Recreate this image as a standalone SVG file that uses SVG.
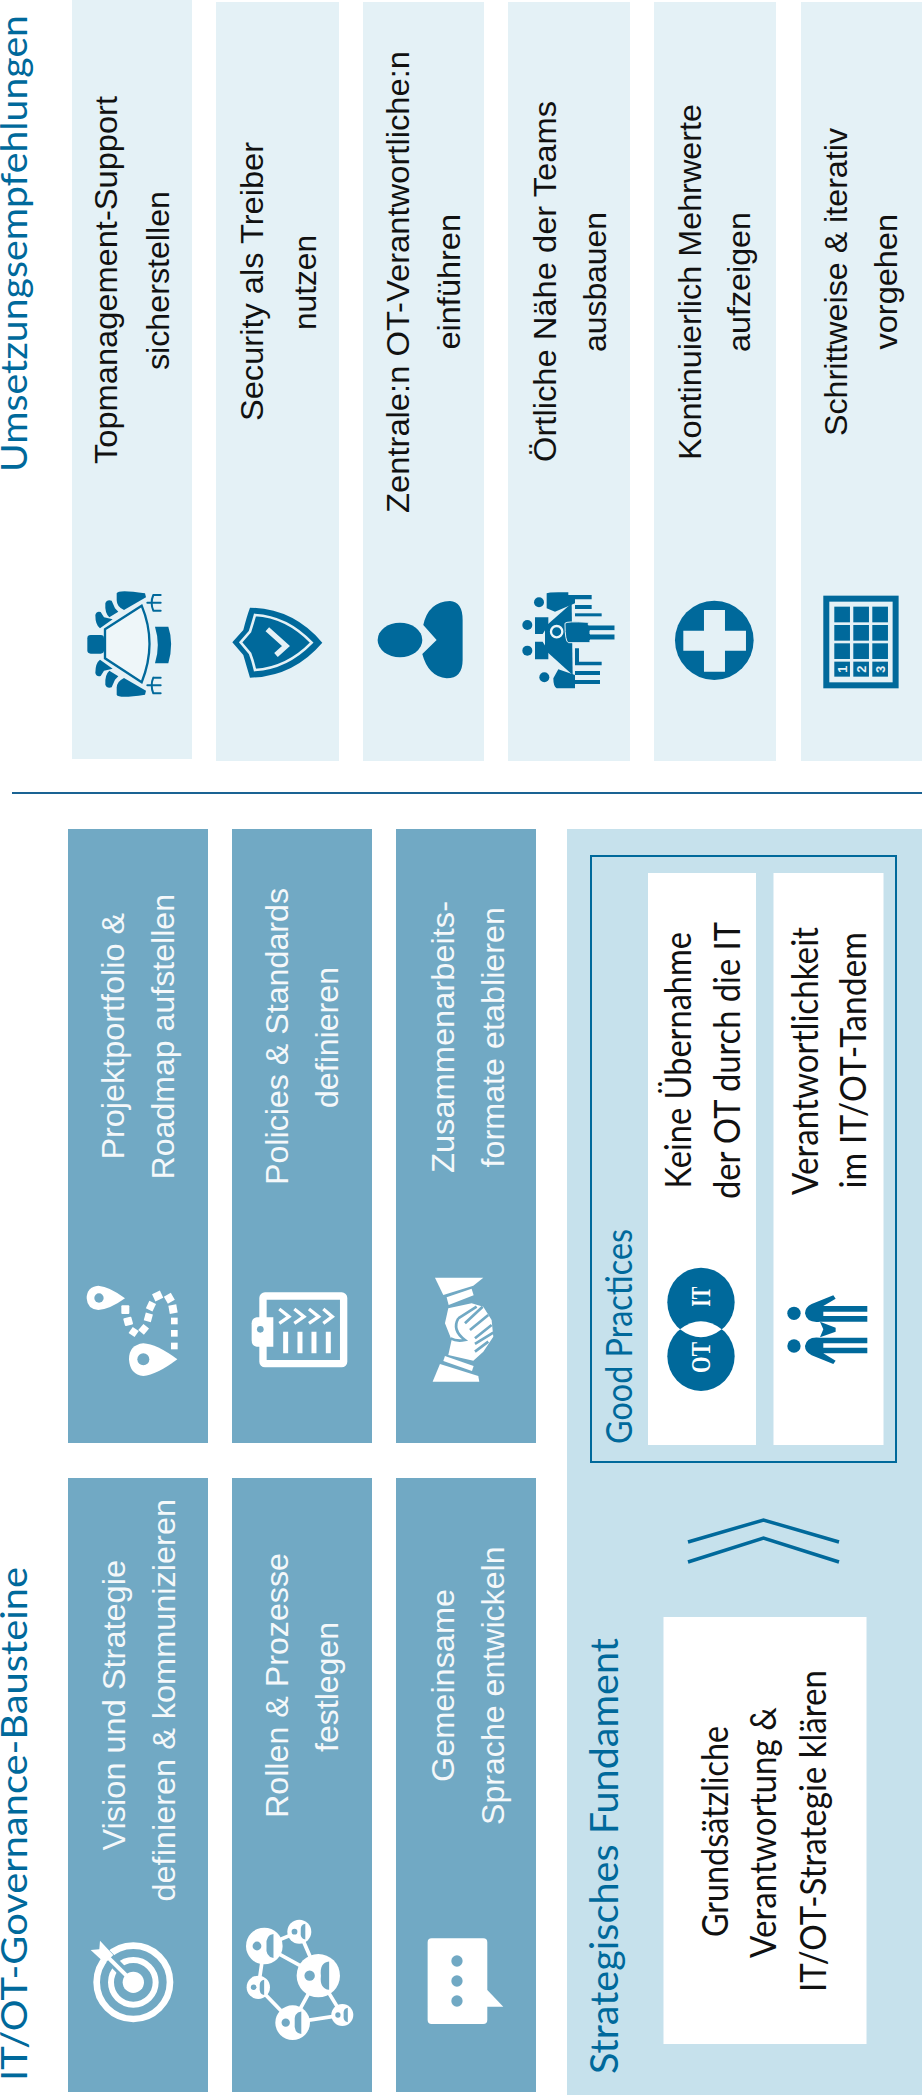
<svg xmlns="http://www.w3.org/2000/svg" width="922" height="2095" viewBox="0 0 922 2095">
<style>
text{white-space:pre}
.s{font-family:"Liberation Sans",Arial,sans-serif;font-size:32px}
.l{font-family:Lato,"Open Sans",sans-serif;font-size:36px}
.h{font-family:Lato,"Open Sans",sans-serif;font-size:37px;fill:#00699b}
.h2{font-family:Lato,"Open Sans",sans-serif;font-size:38px;fill:#00699b}
.k{fill:#111}
.w{fill:#f4f8fa}
.band{fill:#e4f1f6}
.block{fill:#71a9c4}
.white{fill:#fff}
.dk{fill:#00699b}
.ds{fill:none;stroke:#00699b;stroke-linecap:round;stroke-linejoin:round}
.bs{fill:none;stroke:#e4f1f6}
.wf{fill:#fff}
.ws{fill:none;stroke:#fff}
.bl{fill:#71a9c4}
.bls{fill:none;stroke:#71a9c4}
</style>
<defs>
<g id="hub"><circle r="1" class="wf"/><circle cx="-.4" cy="0" r=".24" class="bl"/><path class="bl" d="M.5,-.65Q.05,-.6 .12,0Q.05,.6 .5,.65Z"/></g>
<g id="man"><path class="dk" d="M645,250Q645,232 665,222L730,196L737,206L700,228H832V245H700V258H832V275H690Q650,280 645,250Z"/></g>
</defs>

<g id="title-umsetzung"><text class="h" transform="translate(27 472) rotate(-90)" textLength="457" lengthAdjust="spacingAndGlyphs">Umsetzungsempfehlungen</text></g>

<g id="rec-1">
<rect class="band" x="72" y="0" width="120" height="759"/>
<text class="s k" transform="translate(116.500 464) rotate(-90)" textLength="368" lengthAdjust="spacingAndGlyphs">Topmanagement-Support</text>
<text class="s k" transform="translate(169 370) rotate(-90)" textLength="179" lengthAdjust="spacingAndGlyphs">sicherstellen</text>
<g transform="translate(70 560) scale(.3333)">
<path d="M105,208L215,137Q262,250 215,367L105,295Z" fill="#eef6f9" stroke="#00699b" stroke-width="7"/>
<path class="dk" d="M140,100Q145,88 225,100L228,112L162,150Q140,140 140,120Z"/>
<path class="dk" d="M140,404Q145,416 225,404L228,392L162,354Q140,364 140,384Z"/>
<rect class="dk" x="52" y="225" width="50" height="56" rx="10"/>
<path class="dk" d="M255,200H295Q312,250 295,310H255Q272,255 255,200Z"/>
<path class="dk" d="M76,165Q80,152 92,156L102,172L128,178L90,205Q76,195 76,165Z"/>
<path class="dk" d="M106,130Q110,118 125,122L135,145L145,155L118,172Q104,160 106,130Z"/>
<path class="dk" d="M76,339Q80,352 92,348L102,332L128,326L90,299Q76,309 76,339Z"/>
<path class="dk" d="M106,374Q110,386 125,382L135,359L145,349L118,332Q104,344 106,374Z"/>
<path class="ds" stroke-width="6" d="M232,128H250M250,105Q240,128 250,152M250,105H272M250,128H272M250,152H272"/>
<path class="ds" stroke-width="6" d="M232,376H250M250,353Q240,376 250,400M250,353H272M250,376H272M250,400H272"/>
</g>
</g>

<g id="rec-2">
<rect class="band" x="216" y="2" width="123" height="759"/>
<text class="s k" transform="translate(263 421) rotate(-90)" textLength="279" lengthAdjust="spacingAndGlyphs">Security als Treiber</text>
<text class="s k" transform="translate(316 330) rotate(-90)" textLength="95" lengthAdjust="spacingAndGlyphs">nutzen</text>
<g transform="translate(70 560) scale(.3333)">
<path class="dk" d="M487,247L520,210Q530,170 540,143Q670,145 757,248Q670,350 540,353Q530,320 520,285Z"/>
<path class="bs" stroke-width="8" d="M512,247L540,215Q548,190 555,165Q650,170 725,248Q650,325 555,330Q548,300 540,280Z"/>
<path class="bs" stroke-width="16" d="M592,208L648,258L618,285"/>
</g>
</g>

<g id="rec-3">
<rect class="band" x="363" y="2" width="121" height="759"/>
<text class="s k" transform="translate(409 513) rotate(-90)" textLength="462" lengthAdjust="spacingAndGlyphs">Zentrale:n OT-Verantwortliche:n</text>
<text class="s k" transform="translate(460 349.500) rotate(-90)" textLength="135.500" lengthAdjust="spacingAndGlyphs">einführen</text>
<g transform="translate(70 560) scale(.3333)">
<ellipse class="dk" cx="990" cy="240" rx="67" ry="52"/>
<path class="dk" d="M1060,195Q1075,125 1140,123Q1178,125 1178,180V300Q1178,355 1130,355Q1075,350 1057,282L1100,240Z"/>
</g>
</g>

<g id="rec-4">
<rect class="band" x="508" y="2" width="122" height="759"/>
<text class="s k" transform="translate(556 462) rotate(-90)" textLength="361" lengthAdjust="spacingAndGlyphs">Örtliche Nähe der Teams</text>
<text class="s k" transform="translate(606 352) rotate(-90)" textLength="140" lengthAdjust="spacingAndGlyphs">ausbauen</text>
<g transform="translate(500 560) scale(.3333)">
<path class="dk" d="M135,200L215,130L218,345L135,270Z"/>
<circle class="dk" cx="117" cy="127" r="15"/><circle class="dk" cx="82" cy="195" r="15"/><circle class="dk" cx="82" cy="272" r="15"/><circle class="dk" cx="133" cy="352" r="15"/>
<circle class="dk" cx="170" cy="215" r="17" stroke="#eef6f9" stroke-width="7"/>
<path class="dk" d="M140,100Q145,95 205,97V105H275V118H225V130L165,155L140,145Z"/>
<rect class="dk" x="225" y="135" width="50" height="12"/>
<rect class="dk" x="225" y="160" width="80" height="9"/>
<path class="dk" d="M195,190Q200,183 265,187V195H345V212H270V222H345V240H270V248H205Q195,245 195,190Z" stroke="#e4f1f6" stroke-width="3"/>
<path class="dk" d="M225,265H237V305H305V316H225Z"/>
<path class="dk" d="M160,355L175,328L225,345V333H300V345H225V360H300V372H225V385H170Q160,380 160,355Z"/>
<path class="dk" d="M105,172H145V195L128,222H105Z"/>
<path class="dk" d="M105,245H128L145,272V298H105Z"/>
</g>
</g>

<g id="rec-5">
<rect class="band" x="654" y="2" width="122" height="759"/>
<text class="s k" transform="translate(701 460) rotate(-90)" textLength="356" lengthAdjust="spacingAndGlyphs">Kontinuierlich Mehrwerte</text>
<text class="s k" transform="translate(750 352) rotate(-90)" textLength="140" lengthAdjust="spacingAndGlyphs">aufzeigen</text>
<g transform="translate(500 560) scale(.3333)">
<ellipse class="dk" cx="643" cy="241" rx="118" ry="119"/>
<path class="band" d="M612,150H675V212H738V272H675V335H612V272H550V212H612Z"/>
</g>
</g>

<g id="rec-6">
<rect class="band" x="801" y="2" width="121" height="759"/>
<text class="s k" transform="translate(847 436) rotate(-90)" textLength="308" lengthAdjust="spacingAndGlyphs">Schrittweise &amp; iterativ</text>
<text class="s k" transform="translate(897 349.500) rotate(-90)" textLength="135.500" lengthAdjust="spacingAndGlyphs">vorgehen</text>
<g transform="translate(500 560) scale(.3333)">
<rect x="979" y="116" width="208" height="260" class="band" stroke="#00699b" stroke-width="18"/>
<g class="dk">
<rect x="1003" y="140" width="47" height="47"/><rect x="1060" y="140" width="47" height="47"/><rect x="1117" y="140" width="47" height="47"/>
<rect x="1003" y="195" width="47" height="47"/><rect x="1060" y="195" width="47" height="47"/><rect x="1117" y="195" width="47" height="47"/>
<rect x="1003" y="250" width="47" height="47"/><rect x="1060" y="250" width="47" height="47"/><rect x="1117" y="250" width="47" height="47"/>
<rect x="1003" y="305" width="47" height="45"/><rect x="1060" y="305" width="47" height="45"/><rect x="1117" y="305" width="47" height="45"/>
</g>
<g style="font-family:'Liberation Sans',sans-serif;font-size:38px;font-weight:700;fill:#e4f1f6;text-anchor:middle">
<text transform="translate(1040 328) rotate(-90)">1</text><text transform="translate(1097 328) rotate(-90)">2</text><text transform="translate(1154 328) rotate(-90)">3</text>
</g>
</g>
</g>

<g id="connectors">
<path d="M12,793H922" fill="none" stroke="#1a6393" stroke-width="2"/>
</g>

<g id="title-bausteine"><text class="h" transform="translate(27 2081) rotate(-90)" textLength="514" lengthAdjust="spacingAndGlyphs">IT/OT-Governance-Bausteine</text></g>

<g id="block-portfolio">
<rect class="block" x="68" y="829" width="140" height="614"/>
<text class="s w" transform="translate(123.500 1159.500) rotate(-90)" textLength="246.500" lengthAdjust="spacingAndGlyphs">Projektportfolio &amp;</text>
<text class="s w" transform="translate(174 1179.500) rotate(-90)" textLength="285.500" lengthAdjust="spacingAndGlyphs">Roadmap aufstellen</text>
<g transform="translate(60 1240) scale(.3333)">
<path class="wf" d="M195,175Q150,140 115,137Q80,140 80,175Q82,208 115,210Q150,208 195,175Z"/><circle class="bl" cx="117" cy="174" r="14"/>
<path class="wf" d="M352,358Q290,312 250,310Q207,315 207,358Q210,405 250,408Q290,405 352,358Z"/><circle class="bl" cx="250" cy="358" r="18"/>
<g class="wf">
<rect x="184" y="196" width="24" height="26" rx="3"/><rect x="192" y="232" width="25" height="24" rx="3" transform="rotate(-15 205 244)"/><rect x="210" y="265" width="22" height="22" transform="rotate(35 221 276)"/><rect x="240" y="256" width="22" height="24" transform="rotate(40 251 268)"/><rect x="254" y="220" width="22" height="24" transform="rotate(15 265 232)"/><rect x="262" y="186" width="22" height="25" transform="rotate(25 273 198)"/><rect x="280" y="156" width="26" height="24" transform="rotate(-25 293 168)"/><rect x="316" y="163" width="24" height="24" transform="rotate(-30 328 175)"/><rect x="327" y="195" width="24" height="25" transform="rotate(-10 339 207)"/><rect x="333" y="233" width="20" height="20"/><rect x="333" y="270" width="20" height="20"/><rect x="333" y="308" width="20" height="20"/>
</g>
</g>
</g>

<g id="block-policies">
<rect class="block" x="232" y="829" width="140" height="614"/>
<text class="s w" transform="translate(288 1185) rotate(-90)" textLength="297" lengthAdjust="spacingAndGlyphs">Policies &amp; Standards</text>
<text class="s w" transform="translate(338 1108) rotate(-90)" textLength="141" lengthAdjust="spacingAndGlyphs">definieren</text>
<g transform="translate(60 1240) scale(.3333)">
<rect x="609" y="168" width="242" height="203" rx="6" class="ws" stroke-width="22"/>
<path class="wf" d="M640,232H590Q575,235 575,250V300Q575,318 590,320H640Z"/><circle class="bl" cx="601" cy="268" r="10"/>
<path class="ws" stroke-width="10" d="M658,207L687,230L658,250M703,207L732,230L703,250M747,207L776,230L747,250M790,207L817,230L790,250"/>
<path class="ws" stroke-width="15" d="M677,275V340M720,275V340M762,275V340M805,275V340"/>
</g>
</g>

<g id="block-zusammenarbeit">
<rect class="block" x="396" y="829" width="140" height="614"/>
<text class="s w" transform="translate(454 1173) rotate(-90)" textLength="272" lengthAdjust="spacingAndGlyphs">Zusammenarbeits-</text>
<text class="s w" transform="translate(504 1167.500) rotate(-90)" textLength="260.500" lengthAdjust="spacingAndGlyphs">formate etablieren</text>
<g transform="translate(60 1240) scale(.3333)">
<path class="wf" d="M1125,113H1270L1240,137L1150,165Z"/>
<path class="wf" d="M1160,172L1235,146L1241,166L1166,195Z"/>
<path class="wf" d="M1165,205L1235,190L1270,200L1295,240L1300,290L1270,335L1240,362L1165,345L1175,300L1155,250Z"/>
<path class="bls" stroke-width="8" d="M1268,200L1215,250M1285,225L1230,270M1295,255L1245,295M1300,278L1245,312M1285,305L1245,335M1195,235Q1175,270 1215,300Q1190,305 1172,295M1195,235L1250,200"/>
<path class="wf" d="M1155,348L1241,378L1236,393L1150,363Z"/>
<path class="wf" d="M1140,372L1255,408L1258,425H1118Z"/>
</g>
</g>

<g id="block-vision">
<rect class="block" x="68" y="1478" width="140" height="614"/>
<text class="s w" transform="translate(125 1850.500) rotate(-90)" textLength="290.500" lengthAdjust="spacingAndGlyphs">Vision und Strategie</text>
<text class="s w" transform="translate(175 1901.500) rotate(-90)" textLength="402.500" lengthAdjust="spacingAndGlyphs">definieren &amp; kommunizieren</text>
<g transform="translate(70 1900) scale(.3333)">
<circle cx="190" cy="247" r="110" class="ws" stroke-width="20"/>
<circle cx="190" cy="247" r="67" class="ws" stroke-width="18"/>
<path class="bls" stroke-width="32" d="M190,247L90,145"/>
<circle cx="190" cy="247" r="32" class="wf"/>
<path class="ws" stroke-width="12" d="M190,247L110,168"/>
<path class="wf" d="M90,122L130,165L105,190L62,150L88,148Z"/>
</g>
</g>

<g id="block-rollen">
<rect class="block" x="232" y="1478" width="140" height="614"/>
<text class="s w" transform="translate(288 1818) rotate(-90)" textLength="265" lengthAdjust="spacingAndGlyphs">Rollen &amp; Prozesse</text>
<text class="s w" transform="translate(338 1752) rotate(-90)" textLength="130" lengthAdjust="spacingAndGlyphs">festlegen</text>
<g transform="translate(70 1900) scale(.3333)">
<path class="ws" stroke-width="11" d="M583,138L688,95L745,227L583,138L565,262L668,368L745,227L817,345L668,368"/>
<use href="#hub" transform="translate(583 138) scale(55)"/>
<use href="#hub" transform="translate(688 95) scale(36)"/>
<use href="#hub" transform="translate(745 227) scale(65)"/>
<use href="#hub" transform="translate(565 262) scale(35)"/>
<use href="#hub" transform="translate(668 368) scale(52)"/>
<use href="#hub" transform="translate(817 345) scale(33)"/>
</g>
</g>

<g id="block-sprache">
<rect class="block" x="396" y="1478" width="140" height="614"/>
<text class="s w" transform="translate(454 1782) rotate(-90)" textLength="193" lengthAdjust="spacingAndGlyphs">Gemeinsame</text>
<text class="s w" transform="translate(504 1825) rotate(-90)" textLength="278.500" lengthAdjust="spacingAndGlyphs">Sprache entwickeln</text>
<g transform="translate(70 1900) scale(.3333)">
<path class="wf" d="M1085,115H1240Q1252,115 1252,127V270L1300,320H1252V360Q1252,372 1240,372H1085Q1073,372 1073,360V127Q1073,115 1085,115Z"/>
<circle class="bl" cx="1161" cy="183" r="17"/><circle class="bl" cx="1161" cy="243" r="17"/><circle class="bl" cx="1161" cy="303" r="17"/>
</g>
</g>

<g id="panel-fundament">
<rect x="567" y="829" width="355" height="1266" fill="#c6e1ec"/>
<text class="h2" transform="translate(617.500 2074) rotate(-90)" textLength="436" lengthAdjust="spacingAndGlyphs">Strategisches Fundament</text>
</g>

<g id="good-practices">
<rect x="591" y="856" width="305" height="606" fill="none" stroke="#00699b" stroke-width="2"/>
<text class="h2" style="font-size:36px" transform="translate(632 1444) rotate(-90)" textLength="215" lengthAdjust="spacingAndGlyphs">Good Practices</text>
</g>

<g id="gp-uebernahme">
<rect class="white" x="648" y="873" width="108" height="572"/>
<text class="l k" transform="translate(691 1188.500) rotate(-90)" textLength="256.500" lengthAdjust="spacingAndGlyphs">Keine Übernahme</text>
<text class="l k" transform="translate(740 1199) rotate(-90)" textLength="277" lengthAdjust="spacingAndGlyphs">der OT durch die IT</text>
<g transform="translate(590 1230) scale(.3333)">
<ellipse class="dk" cx="333" cy="217" rx="101" ry="104"/>
<ellipse class="dk" cx="333" cy="379" rx="101" ry="104"/>
<path class="white" d="M270,298Q333,250 395,298Q333,346 270,298Z"/>
</g>
<g style="font-family:'Liberation Serif',serif;font-size:28px;font-weight:700;fill:#fff">
<text transform="translate(710 1306.700) rotate(-90)" textLength="20" lengthAdjust="spacingAndGlyphs">IT</text>
<text transform="translate(710 1373) rotate(-90)" textLength="31" lengthAdjust="spacingAndGlyphs">OT</text>
</g>
</g>

<g id="gp-tandem">
<rect class="white" x="773.500" y="873" width="110" height="572"/>
<text class="l k" transform="translate(818 1195) rotate(-90)" textLength="268" lengthAdjust="spacingAndGlyphs">Verantwortlichkeit</text>
<text class="l k" transform="translate(866 1188.500) rotate(-90)" textLength="256.500" lengthAdjust="spacingAndGlyphs">im IT/OT-Tandem</text>
<g transform="translate(590 1230) scale(.3333)">
<circle class="dk" cx="612" cy="250" r="20"/><circle class="dk" cx="612" cy="348" r="20"/>
<use href="#man"/>
<use href="#man" transform="translate(0 598) scale(1 -1)"/>
<path class="dk" d="M690,275L737,293V305L690,322L700,298Z"/>
</g>
</g>

<g id="chevrons">
<path d="M688,1542L763.500,1520L839,1542M688,1562L763.500,1538L839,1562" fill="none" stroke="#00699b" stroke-width="3.500"/>
</g>

<g id="fundament-box">
<rect class="white" x="663.500" y="1617" width="203" height="427"/>
<text class="l k" transform="translate(728 1937) rotate(-90)" textLength="211" lengthAdjust="spacingAndGlyphs">Grundsätzliche</text>
<text class="l k" transform="translate(776 1958) rotate(-90)" textLength="251" lengthAdjust="spacingAndGlyphs">Verantwortung &amp;</text>
<text class="l k" transform="translate(826 1992) rotate(-90)" textLength="322" lengthAdjust="spacingAndGlyphs">IT/OT-Strategie klären</text>
</g>
</svg>
